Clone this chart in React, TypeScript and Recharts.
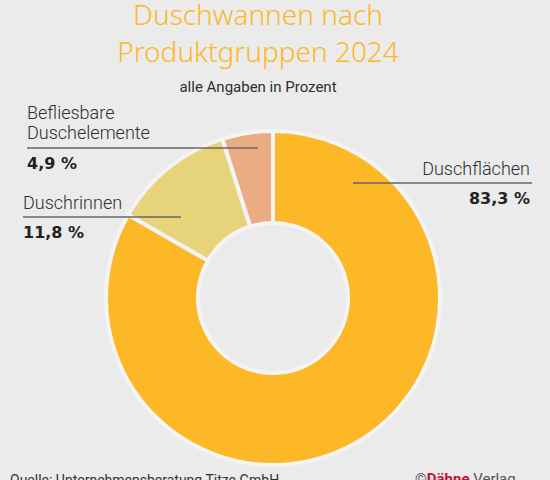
import { PieChart, Pie, Cell } from "recharts";

const CATEGORIES = ["Duschflächen", "Duschrinnen", "Befliesbare Duschelemente"];
const VALUES = [83.3, 11.8, 4.9];
const VALUE_LABELS = ["83,3 %", "11,8 %", "4,9 %"];
const COLORS = ["#fcb827", "#e6d37a", "#ebac84"];

const TITLE = ["Duschwannen nach", "Produktgruppen 2024"];
const SUBTITLE = "alle Angaben in Prozent";
const SOURCE = "Quelle: Unternehmensberatung Titze GmbH";

// label layout, offsets relative to the pie centre
const LABEL_LAYOUT = [
  { anchor: "end", x: 257, lines: [-123], rule: [-115, 80, 259], value: -94 },
  { anchor: "start", x: -250, lines: [-89], rule: [-81, -250, -92], value: -60 },
  { anchor: "start", x: -246, lines: [-179, -159], rule: [-150, -246, -15], value: -129 },
];

const BG = "#ebebeb";
const FONT = "Roboto, 'Liberation Sans', sans-serif";

const data = CATEGORIES.map((name, i) => ({ name, value: VALUES[i] }));

function renderLabel(props: any) {
  const { cx, cy, index } = props;
  const l = LABEL_LAYOUT[index];
  const words = index === 2 ? CATEGORIES[index].split(" ") : [CATEGORIES[index]];
  return (
    <g>
      {words.map((w, k) => (
        <text
          key={k}
          x={cx + l.x}
          y={cy + l.lines[k]}
          textAnchor={l.anchor as any}
          fill="#2e2e2e"
          fontSize={18}
          fontFamily={FONT}
          fontWeight={300}
        >
          {w}
        </text>
      ))}
      <line
        x1={cx + l.rule[1]}
        x2={cx + l.rule[2]}
        y1={cy + l.rule[0]}
        y2={cy + l.rule[0]}
        stroke="#666"
        strokeWidth={1.5}
      />
      <text
        x={cx + l.x}
        y={cy + l.value}
        textAnchor={l.anchor as any}
        fill="#222"
        fontSize={16}
        fontFamily="'DejaVu Sans', sans-serif"
        fontWeight={700}
      >
        {VALUE_LABELS[index]}
      </text>
    </g>
  );
}

export default function App() {
  return (
    <div
      style={{
        position: "fixed",
        left: 0,
        top: 0,
        width: 550,
        height: 480,
        background: BG,
        overflow: "hidden",
        fontFamily: FONT,
      }}
    >
      <div
        style={{
          position: "absolute",
          top: 0,
          left: 0,
          width: 516,
          textAlign: "center",
          color: "#fcb827",
          fontSize: 28,
          lineHeight: "28px",
          fontFamily: "'Noto Sans', sans-serif",
          fontWeight: 300,
        }}
      >
        <div>{TITLE[0]}</div>
        <div style={{ marginTop: 9 }}>{TITLE[1]}</div>
      </div>
      <div
        style={{
          position: "absolute",
          top: 78,
          left: 0,
          width: 516,
          textAlign: "center",
          color: "#2e2e2e",
          fontSize: 15,
          fontFamily: FONT,
        }}
      >
        {SUBTITLE}
      </div>
      <PieChart
        width={550}
        height={480}
        margin={{ top: 0, right: 0, bottom: 0, left: 0 }}
        style={{ position: "absolute", left: 0, top: 0 }}
      >
        <Pie
          data={data}
          dataKey="value"
          nameKey="name"
          cx={273}
          cy={298}
          innerRadius={75}
          outerRadius={167}
          startAngle={90}
          endAngle={-270}
          stroke="#f4f4f4"
          strokeWidth={4}
          label={renderLabel}
          labelLine={false}
          isAnimationActive={false}
        >
          {data.map((d, i) => (
            <Cell key={d.name} fill={COLORS[i]} />
          ))}
        </Pie>
      </PieChart>
      <div
        style={{
          position: "absolute",
          top: 472,
          left: 10,
          fontSize: 14,
          color: "#333",
          fontFamily: FONT,
        }}
      >
        {SOURCE}
      </div>
      <div
        style={{
          position: "absolute",
          top: 470,
          left: 415,
          fontSize: 15,
          color: "#555",
        }}
      >
        ©<span style={{ color: "#c8102e", fontWeight: 700 }}>Dähne</span> Verlag
      </div>
    </div>
  );
}
